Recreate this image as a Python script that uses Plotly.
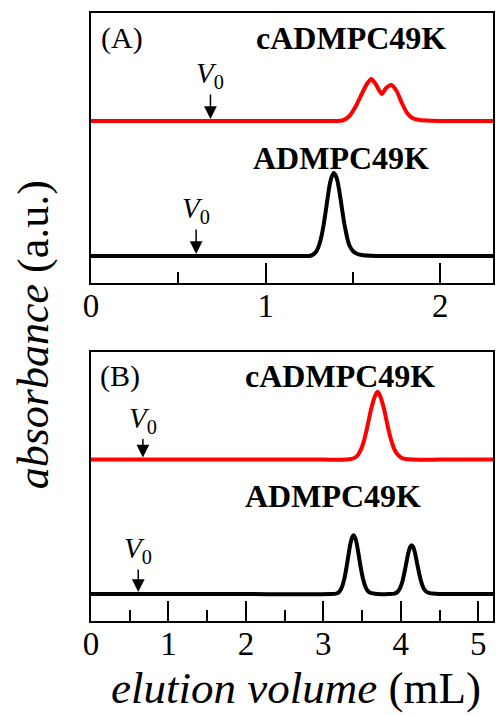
import plotly.graph_objects as go

# ---------------- data ----------------
# Panel A (elution volume in mL, absorbance in arbitrary units above each trace's baseline)
A_black_x = [0.0, 0.5, 1.0, 1.20, 1.25, 1.27, 1.29, 1.30, 1.31, 1.32, 1.33, 1.34, 1.35, 1.36, 1.37,
             1.38, 1.39, 1.40, 1.41, 1.42, 1.43, 1.44, 1.45, 1.46, 1.47, 1.48, 1.50, 1.52, 1.55,
             1.60, 1.70, 2.0, 2.31]
A_black_y = [0, 0, 0, 0, 0, 1.2, 4.5, 8, 13, 20, 29, 40, 52, 64, 74,
             80, 83, 81, 76, 67, 56, 44, 33, 24, 16, 10.5, 5, 2.5, 1,
             0.3, 0, 0, 0]

A_red_x = [0.0, 0.5, 1.0, 1.40, 1.44, 1.48, 1.52, 1.55, 1.58, 1.605, 1.63, 1.665, 1.69, 1.72,
           1.75, 1.78, 1.81, 1.84, 1.88, 1.95, 2.1, 2.31]
A_red_y = [0, 0, 0, 0, 0.5, 5, 16, 27, 37, 42, 37, 27, 33, 36,
           30, 18, 8, 3, 1, 0.3, 0, 0]

# Panel B
B_black_x = [0.0, 1.0, 2.0, 3.10, 3.17, 3.21, 3.24, 3.27, 3.29, 3.31, 3.33, 3.35, 3.37, 3.39,
             3.41, 3.43, 3.45, 3.47, 3.49, 3.51, 3.54, 3.57, 3.61, 3.70, 3.85,
             3.92, 3.96, 3.99, 4.02, 4.04, 4.06, 4.08, 4.10, 4.12, 4.14, 4.16, 4.18, 4.20,
             4.22, 4.24, 4.26, 4.29, 4.32, 4.36, 4.45, 4.6, 5.0, 5.2]
B_black_y = [0, 0, 0, 0, 0.6, 2.8, 7.1, 15.3, 23.1, 32.3, 42.1, 50.9, 56.8, 59,
             56.8, 50.9, 42.1, 32.5, 23.5, 16, 8, 3.5, 1.2, 0.2, 0,
             0.5, 2.4, 5.9, 12.7, 19.2, 26.9, 34.9, 42.2, 47.2, 49, 47.2, 42.2, 34.9,
             27, 19.5, 13.2, 6.5, 3, 1.2, 0.3, 0, 0, 0]

B_red_x = [0.0, 1.0, 2.0, 3.0, 3.30, 3.40, 3.45, 3.49, 3.52, 3.55, 3.58, 3.61, 3.64, 3.67, 3.70,
           3.73, 3.76, 3.79, 3.82, 3.85, 3.88, 3.91, 3.95, 4.00, 4.06, 4.15, 4.5, 5.2]
B_red_y = [0, 0, 0, 0, 0, 1.6, 5, 11, 17.8, 26.8, 37.5, 48.6, 57.5, 64.5, 68,
           64.5, 57.5, 48.6, 37.5, 27, 18.5, 11.5, 5.8, 2.2, 0.6, 0, 0, 0]

# V0 markers (elution volume)
V0_A_red, V0_A_black = 0.684, 0.602
V0_B_red, V0_B_black = 0.67, 0.61

tick_vals_A = [0, 1, 2]
tick_vals_B = [0, 1, 2, 3, 4, 5]

RED_OFFSET = 135  # vertical offset of the red trace

SERIF = "Liberation Serif, Times New Roman, serif"
RED = "#ff0000"

fig = go.Figure()

line_w = 4
fig.add_trace(go.Scatter(x=A_red_x, y=[v + RED_OFFSET for v in A_red_y], mode="lines",
                         line=dict(color=RED, width=line_w, shape="spline", smoothing=0.6),
                         xaxis="x", yaxis="y", showlegend=False, hoverinfo="skip"))
fig.add_trace(go.Scatter(x=A_black_x, y=A_black_y, mode="lines",
                         line=dict(color="black", width=line_w, shape="spline", smoothing=0.6),
                         xaxis="x", yaxis="y", showlegend=False, hoverinfo="skip"))
fig.add_trace(go.Scatter(x=B_red_x, y=[v + RED_OFFSET for v in B_red_y], mode="lines",
                         line=dict(color=RED, width=line_w, shape="spline", smoothing=0.6),
                         xaxis="x2", yaxis="y2", showlegend=False, hoverinfo="skip"))
fig.add_trace(go.Scatter(x=B_black_x, y=B_black_y, mode="lines",
                         line=dict(color="black", width=line_w, shape="spline", smoothing=0.6),
                         xaxis="x2", yaxis="y2", showlegend=False, hoverinfo="skip"))

W, H = 496, 715
L, R = 91, 1
top_px, bot_px = 13, 94
plot_w = W - L - R
plot_h = H - top_px - bot_px
yA_dom = [(621 - 283) / plot_h, 1.0]
yB_dom = [0.0, (621 - 352) / plot_h]

def xaxis_cfg(rng, tv, anchor):
    return dict(range=rng, domain=[0, 1], anchor=anchor, showline=True, linecolor="black",
                linewidth=2, mirror=True, ticks="inside", ticklen=20, tickwidth=2,
                tickcolor="black", tickvals=tv, ticktext=[str(t) for t in tv],
                minor=dict(ticks="inside", ticklen=11, tickwidth=2, dtick=0.5, tickcolor="black"),
                showgrid=False, zeroline=False, ticklabelstandoff=-8,
                tickfont=dict(family=SERIF, size=33, color="black"))

def yaxis_cfg(dom, anchor):
    return dict(range=[-27, 243], domain=dom, anchor=anchor, showline=True, linecolor="black",
                linewidth=2, mirror=True, ticks="", showticklabels=False,
                showgrid=False, zeroline=False)

fig.update_layout(
    width=W, height=H,
    margin=dict(l=L, r=R, t=top_px, b=bot_px),
    paper_bgcolor="white", plot_bgcolor="white",
    xaxis=xaxis_cfg([0, 2.302], tick_vals_A, "y"),
    yaxis=yaxis_cfg(yA_dom, "x"),
    xaxis2=xaxis_cfg([0, 5.19], tick_vals_B, "y2"),
    yaxis2=yaxis_cfg(yB_dom, "x2"),
)

ann = []
def label(text, x, y, xref, yref, size, bold=False):
    t = f"<b>{text}</b>" if bold else text
    ann.append(dict(text=t, x=x, y=y, xref=xref, yref=yref, showarrow=False,
                    xanchor="center", yanchor="middle",
                    font=dict(family=SERIF, size=size, color="black")))

# panel letters & names (positions in data coords)
label("(A)", 0.175, 218, "x", "y", 30)
label("cADMPC49K", 1.49, 218, "x", "y", 32, bold=True)
label("ADMPC49K", 1.43, 98, "x", "y", 32, bold=True)
label("(B)", 0.37, 219, "x2", "y2", 30)
label("cADMPC49K", 3.22, 219, "x2", "y2", 32, bold=True)
label("ADMPC49K", 3.12, 98, "x2", "y2", 32, bold=True)

def v0(x, base, xref, yref, length):
    ann.append(dict(text="", x=x, y=base, xref=xref, yref=yref, showarrow=True,
                    ax=0, ay=-length, arrowhead=2, arrowsize=1.7, arrowwidth=1.5,
                    arrowcolor="black", standoff=2))
    ann.append(dict(text="<i>V</i><sub>0</sub>", x=x, y=base, xref=xref, yref=yref,
                    showarrow=False, xanchor="center", yanchor="bottom", yshift=length - 2,
                    font=dict(family=SERIF, size=29, color="black")))

v0(V0_A_red, RED_OFFSET, "x", "y", 28)
v0(V0_A_black, 0, "x", "y", 28)
v0(V0_B_red, RED_OFFSET, "x2", "y2", 22)
v0(V0_B_black, 0, "x2", "y2", 26)

# axis titles (paper coords are relative to the plotting area)
ann.append(dict(text="<i>elution volume</i> (mL)", x=(297 - L) / plot_w,
                y=-(688 - (H - bot_px)) / plot_h,
                xref="paper", yref="paper", showarrow=False, xanchor="center", yanchor="middle",
                font=dict(family=SERIF, size=45, color="black")))
ann.append(dict(text="<i>absorbance</i> (a.u.)", x=-(L - 33) / plot_w, y=(621 - 335) / plot_h,
                xref="paper", yref="paper", showarrow=False, xanchor="center", yanchor="middle",
                textangle=-90, font=dict(family=SERIF, size=44, color="black")))

fig.update_layout(annotations=ann)
fig.write_html("out.html")
